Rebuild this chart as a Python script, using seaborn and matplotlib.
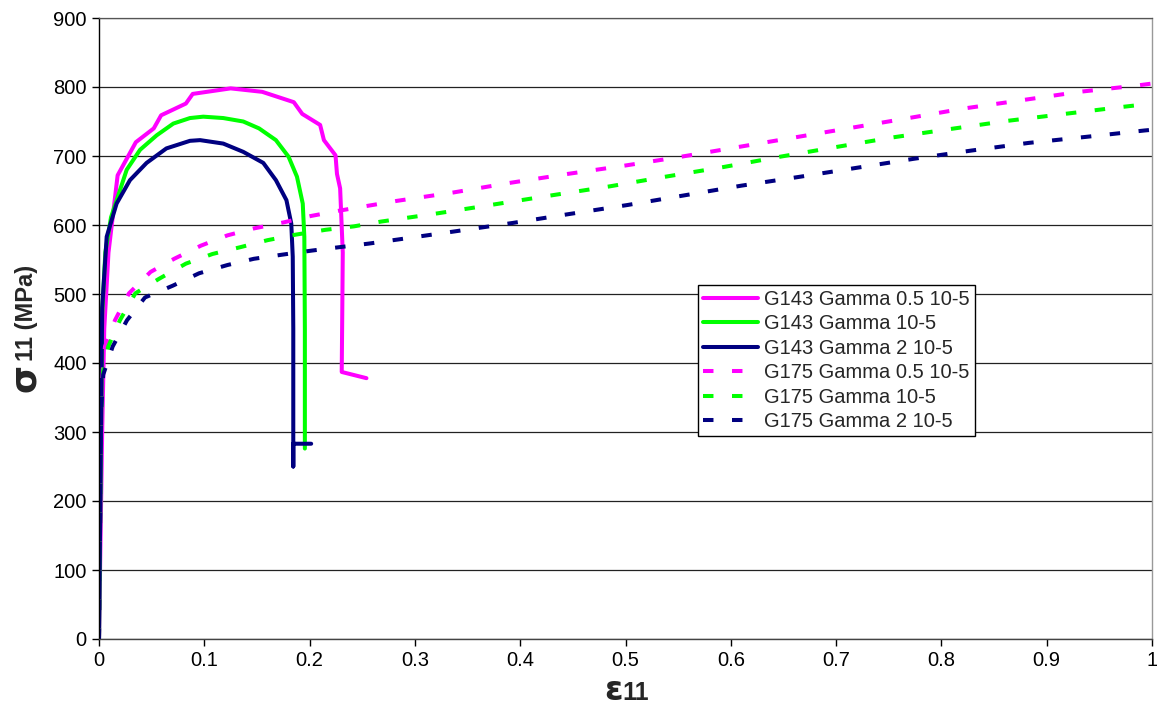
import numpy as np
import pandas as pd
import matplotlib
matplotlib.use("Agg")
import matplotlib.pyplot as plt
import seaborn as sns

# ---------------- data ----------------
g143_g05_x = [0, 0.003, 0.005, 0.009, 0.0177, 0.035, 0.052, 0.059, 0.0825, 0.089, 0.125, 0.155,
              0.185, 0.193, 0.210, 0.2136, 0.2246, 0.226, 0.229, 0.2315, 0.231, 0.2305, 0.254]
g143_g05_y = [0, 300, 450, 560, 672, 720, 740, 759, 776, 790, 798, 793,
              778, 761, 745, 723, 701, 674, 653, 560, 470, 387, 378]

g143_g1_x = [0, 0.003, 0.006, 0.0114, 0.0263, 0.039, 0.0548, 0.0706, 0.0864, 0.099, 0.118, 0.137,
             0.152, 0.168, 0.180, 0.188, 0.1935, 0.195, 0.1955, 0.1955]
g143_g1_y = [0, 470, 560, 611, 680, 709, 730, 747, 755, 757, 755, 750,
             740, 723, 699, 670, 631, 583, 450, 276]

g143_g2_x = [0, 0.003, 0.0073, 0.0167, 0.0294, 0.0452, 0.064, 0.0864, 0.096, 0.118, 0.137, 0.156,
             0.168, 0.178, 0.1826, 0.184, 0.1845, 0.1845, 0.1845, 0.2015]
g143_g2_y = [0, 480, 583, 631, 665, 690, 711, 722, 723, 718, 706, 690,
             665, 636, 602, 554, 450, 250, 283, 283]

g175_g05_x = [0, 0.002, 0.0035, 0.0057, 0.0152, 0.0285, 0.049, 0.0714, 0.0967, 0.122, 0.147, 0.176,
              0.201, 0.229, 0.256, 0.283, 0.336, 0.39, 0.445, 0.499, 0.553, 0.607, 0.661, 0.715,
              0.769, 0.822, 0.877, 0.931, 0.985, 1.0]
g175_g05_y = [0, 340, 390, 424, 462, 501, 532, 551, 570, 585, 595, 604,
              613, 621, 628, 635, 647, 661, 674, 686, 699, 713, 727, 741,
              755, 769, 781, 793, 802, 805]

g175_g1_x = [0, 0.002, 0.004, 0.0088, 0.0199, 0.0345, 0.057, 0.0825, 0.1078, 0.1346, 0.16, 0.1867,
             0.215, 0.242, 0.268, 0.322, 0.376, 0.43, 0.485, 0.538, 0.593, 0.647, 0.70, 0.754,
             0.808, 0.863, 0.917, 0.971, 1.0]
g175_g1_y = [0, 330, 390, 424, 462, 501, 522, 544, 558, 568, 578, 586,
             593, 598, 605, 617, 630, 643, 656, 670, 684, 699, 713, 727,
             739, 751, 761, 771, 776]

g175_g2_x = [0, 0.002, 0.004, 0.013, 0.0266, 0.0437, 0.07, 0.095, 0.122, 0.147, 0.174, 0.2025,
             0.229, 0.256, 0.284, 0.339, 0.393, 0.447, 0.502, 0.556, 0.61, 0.666, 0.72, 0.774,
             0.829, 0.883, 0.939, 0.993, 1.0]
g175_g2_y = [0, 330, 383, 424, 462, 495, 512, 530, 542, 551, 557, 563,
             568, 573, 579, 591, 603, 616, 629, 643, 657, 670, 683, 696,
             708, 719, 728, 737, 738]

labels = ["G143 Gamma 0.5 10-5", "G143 Gamma 10-5", "G143 Gamma 2 10-5",
          "G175 Gamma 0.5 10-5", "G175 Gamma 10-5", "G175 Gamma 2 10-5"]
x_ticks = [0, 0.1, 0.2, 0.3, 0.4, 0.5, 0.6, 0.7, 0.8, 0.9, 1]
x_tick_labels = ["0", "0.1", "0.2", "0.3", "0.4", "0.5", "0.6", "0.7", "0.8", "0.9", "1"]
y_ticks = [0, 100, 200, 300, 400, 500, 600, 700, 800, 900]

# ---------------- style ----------------
sns.set_style("white")
plt.rcParams['font.family'] = ['Liberation Sans', 'DejaVu Sans']

W, H = 1157, 707
fig = plt.figure(figsize=(W / 100, H / 100), dpi=100)
ax = fig.add_axes([99 / W, 1 - 639 / H, (1152 - 99) / W, (639 - 18) / H])

DASH = (0, (2.6, 4.6))
series = [
    (g143_g05_x, g143_g05_y, "#FF00FF", "-"),
    (g143_g1_x, g143_g1_y, "#00FF00", "-"),
    (g143_g2_x, g143_g2_y, "#000080", "-"),
    (g175_g05_x, g175_g05_y, "#FF00FF", DASH),
    (g175_g1_x, g175_g1_y, "#00FF00", DASH),
    (g175_g2_x, g175_g2_y, "#000080", DASH),
]

for (xs, ys, col, ls), lab in zip(series, labels):
    df = pd.DataFrame({"x": xs, "y": ys})
    sns.lineplot(data=df, x="x", y="y", sort=False, estimator=None, color=col,
                 linewidth=2.9, linestyle=ls, label=lab, ax=ax,
                 solid_joinstyle="round", solid_capstyle="round", dash_capstyle="butt")

ax.set_xlim(0, 1)
ax.set_ylim(0, 900)
ax.set_xticks(x_ticks)
ax.set_xticklabels(x_tick_labels)
ax.set_yticks(y_ticks)
ax.set_xlabel("")
ax.set_ylabel("")

ax.grid(False)
ax.yaxis.grid(True, color="#222222", linewidth=0.9)
ax.set_axisbelow(True)

ax.spines["left"].set_color("black")
ax.spines["left"].set_linewidth(1.0)
ax.spines["bottom"].set_color("#444444")
ax.spines["bottom"].set_linewidth(1.0)
ax.spines["top"].set_color("#555555")
ax.spines["top"].set_linewidth(0.9)
ax.spines["right"].set_color("#999999")
ax.spines["right"].set_linewidth(1.0)

ax.tick_params(axis="both", direction="out", length=5, width=1, color="black",
               labelsize=14.5, labelcolor="black", pad=4,
               bottom=True, left=True)

# legend
leg = ax.legend(loc="upper left", bbox_to_anchor=((698 - 99) / 1053, (639 - 285) / 621),
                frameon=True, fancybox=False, fontsize=14.5, handlelength=2.75,
                handletextpad=0.3, labelspacing=0.27, borderpad=0.25,
                borderaxespad=0)
leg.get_frame().set_edgecolor("black")
leg.get_frame().set_linewidth(1.0)
leg.get_frame().set_alpha(1)

# axis labels (Greek symbol drawn larger, like the reference)
fig.text(25 / W, 1 - 378 / H, "σ", rotation=90, ha="center", va="center",
         fontsize=26, fontweight="bold", family=["DejaVu Sans"])
fig.text(27 / W, 1 - 313 / H, "11 (MPa)", rotation=90, ha="center", va="center",
         fontsize=17, fontweight="bold")
fig.text(613 / W, 1 - 690 / H, "ε", ha="center", va="center",
         fontsize=24, fontweight="bold", family=["DejaVu Sans"])
fig.text(636 / W, 1 - 693 / H, "11", ha="center", va="center",
         fontsize=18, fontweight="bold")

fig.savefig("out.png", dpi=100)
